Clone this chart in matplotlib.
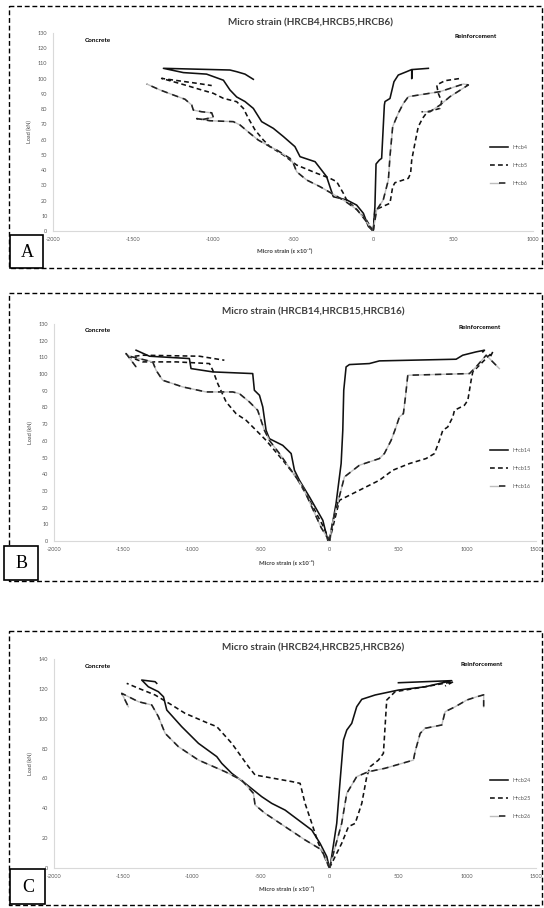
import matplotlib
matplotlib.use('Agg')
import matplotlib.pyplot as plt
from matplotlib.patches import Rectangle
from matplotlib.lines import Line2D
from matplotlib.legend_handler import HandlerTuple

plt.rcParams['font.family'] = ['Lato', 'DejaVu Sans']
plt.rcParams['axes.unicode_minus'] = False

W, H = 544, 908

# ---------------- panel A : HRCB4, HRCB5, HRCB6 ----------------
a4_con_x = [0, -29, -60, -102, -164, -248, -269, -290, -362, -456, -488, -560, -623, -696, -748, -800, -852, -894, -935, -1040, -1185, -1310, -894, -852, -800, -748]
a4_con_y = [0, 3, 11.6, 17, 20.4, 22.5, 29, 35.7, 45.5, 48.8, 55.4, 62, 67.4, 71.8, 80.5, 85, 88, 92.6, 99, 103, 104, 106.8, 105.7, 104.6, 103, 99.6]
a4_rei_x = [0, 2, 12, 19, 40, 54, 71, 75, 106, 131, 158, 210, 242, 242, 245, 346]
a4_rei_y = [0, 0.7, 16, 44, 46.6, 47.7, 82.7, 85, 87, 98, 102.4, 104.6, 106, 100, 106, 106.8]

a5_con_x = [0, -40, -100, -165, -185, -227, -269, -352, -477, -560, -644, -685, -737, -779, -810, -852, -935, -998, -1071, -1180, -1321, -1206, -1102, -1008]
a5_con_y = [0, 7, 14, 20.4, 24.7, 32.4, 34.6, 37.9, 43.3, 49.9, 55.4, 59.7, 66.3, 74, 80.5, 84.9, 87.1, 90.4, 92.6, 96, 100.2, 98.5, 97, 95.5]
a5_rei_x = [0, 2, 12, 106, 123, 137, 221, 235, 242, 262, 283, 310, 340, 419, 429, 408, 398, 450, 554]
a5_rei_y = [0, 0.7, 13.8, 18.2, 29, 31.7, 34.6, 37.9, 46.6, 57.6, 68.5, 74, 78.3, 80.5, 85, 90.4, 95.9, 98.7, 100.3]

a6_con_x = [0, -40, -100, -180, -258, -331, -415, -477, -498, -519, -602, -644, -717, -769, -831, -873, -1019, -1102, -1060, -998, -1008, -1071, -1123, -1133, -1175, -1248, -1331, -1414]
a6_con_y = [0, 6, 14, 20, 24.7, 29.1, 33.5, 38.9, 44.4, 47.7, 53.2, 55.4, 59.7, 64.1, 69.6, 71.8, 72.4, 73.8, 73.3, 74.7, 77.6, 78.3, 79.4, 82.7, 86.5, 89.3, 92.6, 96.5]
a6_rei_x = [0, 2, 23, 64, 96, 106, 123, 158, 190, 221, 419, 565, 596, 481, 419, 356, 304]
a6_rei_y = [0, 0.7, 13.8, 20.4, 33.5, 48.8, 68.5, 77.3, 83.8, 88.2, 91.5, 96.5, 95.9, 88.2, 82.7, 78.3, 78.3]

# ---------------- panel B : HRCB14, HRCB15, HRCB16 ----------------
b14_con_x = [0, -12, -48, -145, -218, -254, -278, -339, -436, -460, -484, -508, -545, -557, -847, -1005, -1017, -1307, -1404]
b14_con_y = [0, 0.4, 12.4, 26.4, 36.4, 42.4, 52.4, 57.3, 61.3, 66.3, 80.3, 87.3, 90.3, 100.3, 101.3, 103.3, 109.3, 110.7, 114.3]
b14_rei_x = [0, 48, 85, 97, 104, 121, 145, 290, 363, 920, 968, 1065, 1126, 1114]
b14_rei_y = [0, 22.4, 46.4, 66.3, 90.3, 104.3, 105.7, 106.3, 107.9, 108.9, 111.3, 113.3, 114.3, 113.3]

b15_con_x = [0, -40, -145, -242, -339, -460, -532, -605, -678, -750, -811, -847, -871, -1113, -1356, -1452, -1356, -944, -763]
b15_con_y = [0, 8, 24.4, 38.4, 48.4, 60.3, 66.3, 72.3, 76.3, 83.3, 94.3, 102.3, 106.3, 107.3, 107.3, 110.3, 111.3, 110.7, 108.3]
b15_rei_x = [0, 73, 145, 266, 363, 460, 581, 702, 763, 799, 823, 859, 896, 908, 980, 1005, 1029, 1041, 1101, 1186, 1162]
b15_rei_y = [0, 24.4, 27.4, 32.4, 36.4, 42.4, 46.4, 49.4, 52.4, 60.3, 66.3, 68.3, 74.3, 78.3, 81.3, 84.3, 96.3, 101.3, 106.3, 113.3, 109.3]

b16_con_x = [0, -60, -194, -278, -363, -436, -472, -521, -581, -654, -702, -896, -1065, -1211, -1259, -1283, -1452, -1477, -1404]
b16_con_y = [0, 8, 32.4, 42.4, 52.4, 60.3, 66.3, 78.3, 83.3, 88.3, 89.3, 89.3, 92.3, 96.3, 102.3, 107.3, 110.7, 112.3, 104.3]
b16_rei_x = [0, 20, 109, 218, 363, 399, 448, 484, 508, 537, 552, 569, 1017, 1065, 1138, 1234]
b16_rei_y = [0, 10, 38.4, 45.4, 49.4, 52.4, 60.3, 68.3, 74.3, 76.3, 86.3, 99.3, 100.3, 104.3, 111.3, 103.3]

# ---------------- panel C : HRCB24, HRCB25, HRCB26 ----------------
c24_con_x = [0, -19, -68, -128, -225, -322, -419, -492, -612, -709, -782, -818, -951, -1073, -1181, -1205, -1242, -1315, -1363, -1266, -1254]
c24_con_y = [0, 7.6, 16.5, 25.4, 32.1, 38.8, 43.3, 47.8, 56.7, 63.4, 70.1, 74.6, 83.5, 94.7, 105.8, 114.7, 118.1, 121.4, 125.9, 124.8, 123.7]
c24_rei_x = [0, 5, 53, 78, 102, 126, 162, 198, 235, 332, 501, 695, 888, 501]
c24_rei_y = [0, 0.9, 29.9, 58.9, 85.7, 92.4, 96.9, 108, 113, 115.9, 119.2, 121.4, 125.5, 124.1]

c25_con_x = [0, -80, -128, -177, -213, -274, -540, -588, -709, -818, -879, -1048, -1145, -1266, -1387, -1472]
c25_con_y = [0, 16.5, 29.9, 43.3, 56.7, 57.9, 62.3, 67.9, 83.5, 94.7, 96.9, 103.6, 109.2, 115.9, 120.4, 123.7]
c25_rei_x = [0, 89, 138, 187, 235, 271, 296, 356, 392, 404, 416, 477, 695, 900, 840]
c25_rei_y = [0, 16.5, 27.7, 29.9, 43.3, 61.2, 67.9, 72.3, 76.8, 94.6, 112.5, 118.1, 121.4, 124.8, 121.9]

c26_con_x = [0, -56, -177, -322, -467, -540, -552, -637, -757, -951, -1097, -1193, -1242, -1290, -1387, -1508, -1460]
c26_con_y = [0, 12.1, 18.8, 27.7, 36.6, 42.2, 50, 58.9, 64.5, 72.3, 81.3, 90.2, 101.4, 109.2, 111.4, 117, 108]
c26_rei_x = [0, 89, 126, 198, 283, 404, 610, 622, 659, 695, 816, 840, 913, 997, 1070, 1120, 1120]
c26_rei_y = [0, 29.9, 50, 61.2, 64.5, 66.8, 72.3, 77.9, 90.2, 93.6, 95.8, 104.7, 108, 112.5, 114.7, 116, 108]

labels_a = ['Hrcb4', 'Hrcb5', 'Hrcb6']
labels_b = ['Hrcb14', 'Hrcb15', 'Hrcb16']
labels_c = ['Hrcb24', 'Hrcb25', 'Hrcb26']
titles = ['Micro strain (HRCB4,HRCB5,HRCB6)',
          'Micro strain (HRCB14,HRCB15,HRCB16)',
          'Micro strain (HRCB24,HRCB25,HRCB26)']


def fx(px):
    return px / W


def fy(py):
    return 1 - py / H


def draw_series(ax, xs, ys, kind):
    # returns a legend handle
    if kind == 0:
        ln, = ax.plot(xs, ys, color='#111111', lw=1.15, ls='-')
        return ln
    if kind == 1:
        ln, = ax.plot(xs, ys, color='#111111', lw=1.15, ls=(0, (3, 2)))
        return ln
    under, = ax.plot(xs, ys, color='#bdbdbd', lw=1.0, ls='-')
    top, = ax.plot(xs, ys, color='#222222', lw=1.15, ls=(0, (4, 3)))
    return (under, top)


def panel(fig, box, series, labels, title, xlim, xticks, ylim, yticks,
          title_y, conc_y, rein_x, rein_y, leg_top, xlab_y, letter, letter_box):
    left, right, top, bottom = box
    ax = fig.add_axes([fx(left), fy(bottom), (right - left) / W, (bottom - top) / H])
    handles = []
    for k, (cx, cy, rx, ry) in enumerate(series):
        h = draw_series(ax, cx, cy, k)
        draw_series(ax, rx, ry, k)
        handles.append(h)
    ax.set_xlim(*xlim)
    ax.set_ylim(*ylim)
    ax.set_xticks(xticks)
    ax.set_yticks(yticks)
    ax.tick_params(length=0, labelsize=4, colors='#595959', pad=4)
    for s in ['top', 'right']:
        ax.spines[s].set_visible(False)
    for s in ['left', 'bottom']:
        ax.spines[s].set_color('#d9d9d9')
        ax.spines[s].set_linewidth(0.8)
    ax.set_ylabel('Load (kN)', fontsize=4, color='#404040', labelpad=4)
    ax.legend(handles, labels, loc='upper left', frameon=False, fontsize=4,
              labelcolor='#595959', handlelength=3.2, labelspacing=2.3,
              handler_map={tuple: HandlerTuple(ndivide=None)},
              bbox_to_anchor=(fx(490), fy(leg_top)), bbox_transform=fig.transFigure,
              borderaxespad=0, borderpad=0)

    fig.text(fx((left + right) / 2 + 18), fy(title_y), title, ha='center', va='center',
             fontsize=7.2, fontweight='bold', color='#404040')
    fig.text(fx(85), fy(conc_y), 'Concrete', ha='left', va='center',
             fontsize=4.6, fontweight='bold', color='black')
    fig.text(fx(rein_x), fy(rein_y), 'Reinforcement', ha='center', va='center',
             fontsize=4.6, fontweight='bold', color='black')
    fig.text(fx((left + right) / 2 - 8), fy(xlab_y), 'Micro strain (\u03b5 x10\u207b\u2076)',
             ha='center', va='center', fontsize=4.3, fontweight='bold', color='#404040')

    # letter box
    lx0, ly0, lx1, ly1 = letter_box
    fig.add_artist(Rectangle((fx(lx0), fy(ly1)), (lx1 - lx0) / W, (ly1 - ly0) / H,
                             transform=fig.transFigure, fill=True, facecolor='white',
                             edgecolor='black', lw=1.2, zorder=5))
    fig.text(fx((lx0 + lx1) / 2 + 1), fy((ly0 + ly1) / 2 + 1), letter, ha='center',
             va='center', fontsize=13, family='Liberation Serif', color='black', zorder=6)
    return ax


def dashed_border(fig, x0, y0, x1, y1):
    xs = [fx(x0), fx(x1), fx(x1), fx(x0), fx(x0)]
    ys = [fy(y0), fy(y0), fy(y1), fy(y1), fy(y0)]
    fig.add_artist(Line2D(xs, ys, transform=fig.transFigure, color='black',
                          lw=1.0, ls=(0, (3.5, 2)), zorder=1))


fig = plt.figure(figsize=(W / 100, H / 100), dpi=100)

dashed_border(fig, 9, 6, 542, 268)
dashed_border(fig, 9, 293, 542, 581)
dashed_border(fig, 9, 631, 542, 905)

panel(fig, (53, 533, 33, 231),
      [(a4_con_x, a4_con_y, a4_rei_x, a4_rei_y),
       (a5_con_x, a5_con_y, a5_rei_x, a5_rei_y),
       (a6_con_x, a6_con_y, a6_rei_x, a6_rei_y)],
      labels_a, titles[0], (-2000, 1000), range(-2000, 1001, 500), (0, 130), range(0, 131, 10),
      title_y=23, conc_y=40, rein_x=476, rein_y=37, leg_top=145, xlab_y=250,
      letter='A', letter_box=(10, 235, 43, 268))

panel(fig, (54, 536, 324, 541),
      [(b14_con_x, b14_con_y, b14_rei_x, b14_rei_y),
       (b15_con_x, b15_con_y, b15_rei_x, b15_rei_y),
       (b16_con_x, b16_con_y, b16_rei_x, b16_rei_y)],
      labels_b, titles[1], (-2000, 1500), range(-2000, 1501, 500), (0, 130), range(0, 131, 10),
      title_y=312, conc_y=331, rein_x=480, rein_y=328, leg_top=448, xlab_y=562,
      letter='B', letter_box=(4, 546, 38, 580))

panel(fig, (54, 536, 659, 868),
      [(c24_con_x, c24_con_y, c24_rei_x, c24_rei_y),
       (c25_con_x, c25_con_y, c25_rei_x, c25_rei_y),
       (c26_con_x, c26_con_y, c26_rei_x, c26_rei_y)],
      labels_c, titles[2], (-2000, 1500), range(-2000, 1501, 500), (0, 140), range(0, 141, 20),
      title_y=648, conc_y=667, rein_x=482, rein_y=664, leg_top=778, xlab_y=888,
      letter='C', letter_box=(10, 869, 45, 904))

fig.savefig('out.png', dpi=100)
